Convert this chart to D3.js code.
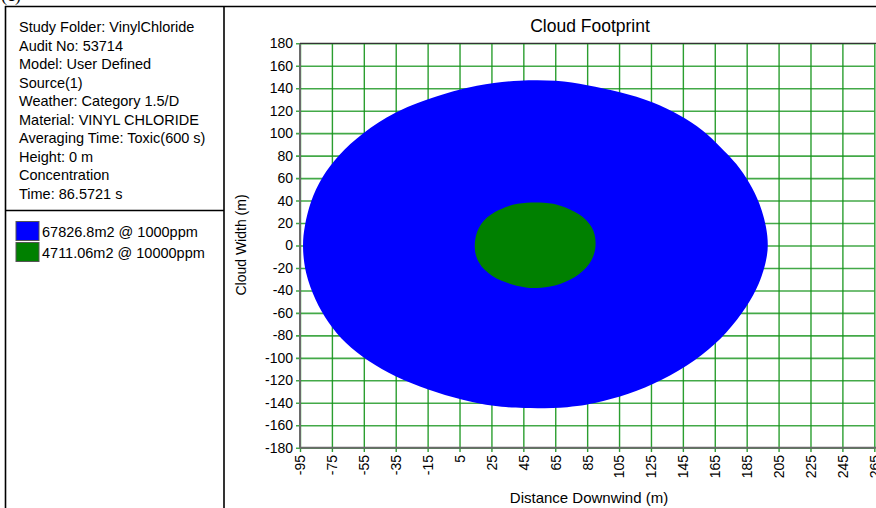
<!DOCTYPE html>
<html><head><meta charset="utf-8">
<script src="https://cdn.jsdelivr.net/npm/d3@7"></script>
<style>
html,body{margin:0;padding:0;background:#fff;}
svg{display:block;font-family:"Liberation Sans",Arial,sans-serif;}
</style></head>
<body>
<svg id="chart" width="876" height="508"></svg>
<script>
// ---------- data ----------
const infoLines = [
  "Study Folder: VinylChloride",
  "Audit No: 53714",
  "Model: User Defined",
  "Source(1)",
  "Weather: Category 1.5/D",
  "Material: VINYL CHLORIDE",
  "Averaging Time: Toxic(600 s)",
  "Height: 0 m",
  "Concentration",
  "Time: 86.5721 s"
];
const seriesAreas = [67826.8, 4711.06];          // m2
const seriesConcentrations = [1000, 10000];        // ppm
const seriesColors = ["#0000FF", "#008000"];
const xTickValues = [-95,-75,-55,-35,-15,5,25,45,65,85,105,125,145,165,185,205,225,245,265];
const yTickValues = [-180,-160,-140,-120,-100,-80,-60,-40,-20,0,20,40,60,80,100,120,140,160,180];

// footprint contour at 1000 ppm (downwind x, crosswind y)
const contour1000X = [-93.6,-92.3,-88.7,-81.4,-71.0,-56.3,-35.5,-14.6,16.8,42.9,66.1,84.7,105.6,126.5,143.2,157.8,168.3,178.7,187.1,193.3,197.5,198.6,197.5,193.3,185.3,172.5,157.8,136.9,116.1,95.1,74.2,42.9,27.2,6.4,-14.6,-35.5,-52.2,-66.8,-77.3,-85.6,-91.9];
const contour1000Y = [0,16.7,39.0,61.2,80.6,99.9,119.1,131.0,143.7,147.3,147.3,142.9,136.9,128.0,116.2,102.8,87.9,73.2,55.4,37.6,16.7,0,-12.9,-33.6,-54.5,-78.1,-97.5,-116.8,-130.1,-139.0,-144.9,-144.9,-143.5,-137.5,-128.6,-116.8,-103.4,-87.0,-69.2,-48.5,-24.7];
// footprint contour at 10000 ppm
const contour10000X = [14.1,17.8,26.2,40.8,59.6,68.0,80.5,88.9,91.0,88.9,80.5,68.0,55.4,47.1,30.4,19.9,14.7];
const contour10000Y = [4.9,19.8,30.1,38.5,38.5,36.0,28.7,16.7,2.0,-12.9,-26.3,-35.2,-38.1,-38.1,-32.2,-21.8,-10.0];

// ---------- drawing ----------
const svg = d3.select("#chart");
const x = d3.scaleLinear().domain([-95, 265]).range([300, 874.3]);
const y = d3.scaleLinear().domain([-180, 180]).range([447.7, 43.3]);

// "(c)" label at top, mostly cut off
svg.append("text").attr("x", 1).attr("y", 1).attr("font-family", "Liberation Serif, Times New Roman, serif")
  .attr("font-size", 18).text("(c)");

// frame
const frame = svg.append("g").attr("stroke", "#000").attr("fill", "none");
frame.append("line").attr("x1", 5).attr("x2", 876).attr("y1", 6.5).attr("y2", 6.5).attr("stroke-width", 1.6);
frame.append("line").attr("x1", 5.5).attr("x2", 5.5).attr("y1", 6).attr("y2", 508).attr("stroke-width", 1.6);
frame.append("line").attr("x1", 224).attr("x2", 224).attr("y1", 6).attr("y2", 508).attr("stroke-width", 1.6);
frame.append("line").attr("x1", 5).attr("x2", 224).attr("y1", 210.5).attr("y2", 210.5).attr("stroke-width", 1.6);

// info text
svg.append("g").selectAll("text").data(infoLines).join("text")
  .attr("x", 19).attr("y", (d, i) => 32 + i * 18.5)
  .attr("font-size", 14.5).attr("fill", "#000").text(d => d);

// legend
const leg = svg.append("g").selectAll("g").data(seriesAreas).join("g")
  .attr("transform", (d, i) => `translate(16,${221.5 + i * 21})`);
leg.append("rect").attr("width", 23).attr("height", 19)
  .attr("fill", (d, i) => seriesColors[i]).attr("stroke", "#555").attr("stroke-width", 1);
leg.append("text").attr("x", 26).attr("y", 15).attr("font-size", 14.5).attr("fill", "#000")
  .text((d, i) => `${d}m2 @ ${seriesConcentrations[i]}ppm`);

// grid (via axes)
const gridColor = "#14931a";
const fmt = d => String(d);
const yAxis = d3.axisLeft(y).tickValues(yTickValues).tickFormat(fmt).tickSize(-(874.3 - 296)).tickPadding(3).tickSizeOuter(0);
const gy = svg.append("g").attr("transform", "translate(296,0)").call(yAxis);
gy.select(".domain").remove();
gy.selectAll(".tick line").attr("stroke", gridColor).attr("stroke-width", 1.6).attr("stroke-opacity", 0.8);
gy.selectAll(".tick text").attr("font-size", 14).attr("fill", "#000").attr("font-family", "Liberation Sans, Arial, sans-serif");

const xAxis = d3.axisBottom(x).tickValues(xTickValues).tickFormat(fmt).tickSize(-(452 - 43.3)).tickSizeOuter(0);
const gx = svg.append("g").attr("transform", "translate(0,452)").call(xAxis);
gx.select(".domain").remove();
gx.selectAll(".tick line").attr("stroke", gridColor).attr("stroke-width", 1.4).attr("stroke-opacity", 0.9);
gx.selectAll(".tick text").attr("font-size", 14).attr("fill", "#000").attr("font-family", "Liberation Sans, Arial, sans-serif")
  .attr("transform", "rotate(-90)").attr("text-anchor", "end").attr("x", -3).attr("y", 0).attr("dy", "0.35em");

// footprints
const line = d3.line().x(d => x(d[0])).y(d => y(d[1])).curve(d3.curveBasisClosed);
const contours = [
  d3.zip(contour1000X, contour1000Y),
  d3.zip(contour10000X, contour10000Y)
];
svg.append("g").selectAll("path").data(contours).join("path")
  .attr("d", line).attr("fill", (d, i) => seriesColors[i]);

// axis lines
const ax = svg.append("g").attr("stroke", "#6a6a6a").attr("stroke-width", 2);
ax.append("line").attr("x1", 300).attr("x2", 300).attr("y1", 43.3).attr("y2", 448.7);
ax.append("line").attr("x1", 299).attr("x2", 876).attr("y1", 447.7).attr("y2", 447.7);
svg.append("line").attr("x1", 300).attr("x2", 876).attr("y1", 43.3).attr("y2", 43.3)
  .attr("stroke", "#333").attr("stroke-width", 1.3);

// titles
svg.append("text").attr("x", 590).attr("y", 32).attr("text-anchor", "middle")
  .attr("font-size", 17.5).attr("fill", "#000").text("Cloud Footprint");
svg.append("text").attr("x", 589).attr("y", 503).attr("text-anchor", "middle")
  .attr("font-size", 15).attr("fill", "#000").text("Distance Downwind (m)");
svg.append("text").attr("transform", "translate(246,245) rotate(-90)").attr("text-anchor", "middle")
  .attr("font-size", 14).attr("fill", "#000").text("Cloud Width (m)");
</script>
</body></html>
